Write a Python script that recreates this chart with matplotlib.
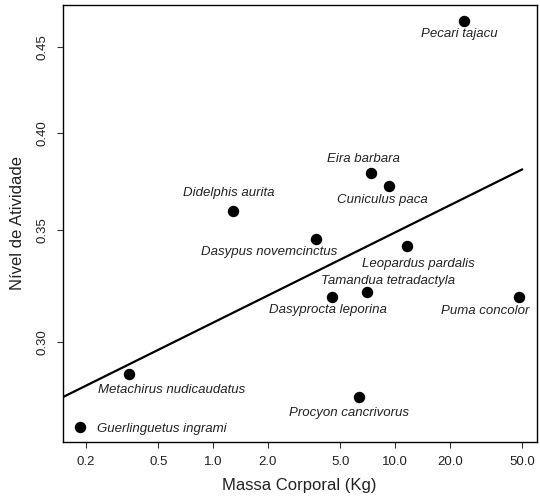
import numpy as np
import matplotlib
matplotlib.use("Agg")
import matplotlib.pyplot as plt

plt.rcParams['font.family'] = ['Liberation Sans', 'DejaVu Sans']

# species, body mass (kg) and activity level
especies = ["Pecari tajacu", "Eira barbara", "Cuniculus paca", "Didelphis aurita",
            "Dasypus novemcinctus", "Leopardus pardalis", "Tamandua tetradactyla",
            "Dasyprocta leporina", "Puma concolor", "Metachirus nudicaudatus",
            "Procyon cancrivorus", "Guerlinguetus ingrami"]
massa = [23.9, 7.37, 9.28, 1.29, 3.68, 11.55, 6.97, 4.50, 48.0, 0.347, 6.30, 0.186]
atividade = [0.4668, 0.3783, 0.3719, 0.3592, 0.3455, 0.3423, 0.3211, 0.3189,
             0.3189, 0.2870, 0.2781, 0.2669]

# label offsets (pixels) from each point
offsets = [(-5, -13), (-8, 14), (-7, -14), (-5, 18), (-47, -13), (12, -18),
           (21, 11), (-4, -13), (-34, -14), (42, -16), (-10, -16), (82, -2)]

# power-law fit: y = a * x^b
fit_a = 0.308
fit_b = 0.054
fit_range = (0.149, 49.7)

xticks = [0.2, 0.5, 1.0, 2.0, 5.0, 10.0, 20.0, 50.0]
yticks = [0.30, 0.35, 0.40, 0.45]

fig = plt.figure(figsize=(5.4, 4.97), dpi=100)
ax = fig.add_axes([0.116, 0.1107, 0.878, 0.880])

ax.scatter(massa, atividade, s=52, color='black', zorder=3)

xf = np.array(fit_range)
ax.plot(xf, fit_a * xf ** fit_b, color='black', lw=1.6)

for nome, x, y, off in zip(especies, massa, atividade, offsets):
    ax.annotate(nome, (x, y), xytext=off, textcoords='offset pixels',
                ha='center', va='center', fontsize=9.5, style='italic',
                color='#222222')

ax.set_xscale('log')
ax.set_yscale('log')
ax.set_xlim(0.149, 59.9)
ax.set_ylim(0.2613, 0.4773)
ax.set_xticks(xticks)
ax.set_xticklabels([f"{t:.1f}" for t in xticks])
ax.set_yticks(yticks)
ax.set_yticklabels([f"{t:.2f}" for t in yticks], rotation=90, va='center')
ax.xaxis.set_minor_locator(matplotlib.ticker.NullLocator())
ax.yaxis.set_minor_locator(matplotlib.ticker.NullLocator())
ax.tick_params(length=4.2, width=0.8, pad=6, labelsize=9.5, colors='#333333',
               labelcolor='#222222')

for s in ax.spines.values():
    s.set_linewidth(1.0)

ax.set_xlabel("Massa Corporal (Kg)", fontsize=12, color='#222222', labelpad=7)
ax.set_ylabel("Nível de Atividade", fontsize=12, color='#222222', labelpad=8)

fig.savefig("out.png", dpi=100)
